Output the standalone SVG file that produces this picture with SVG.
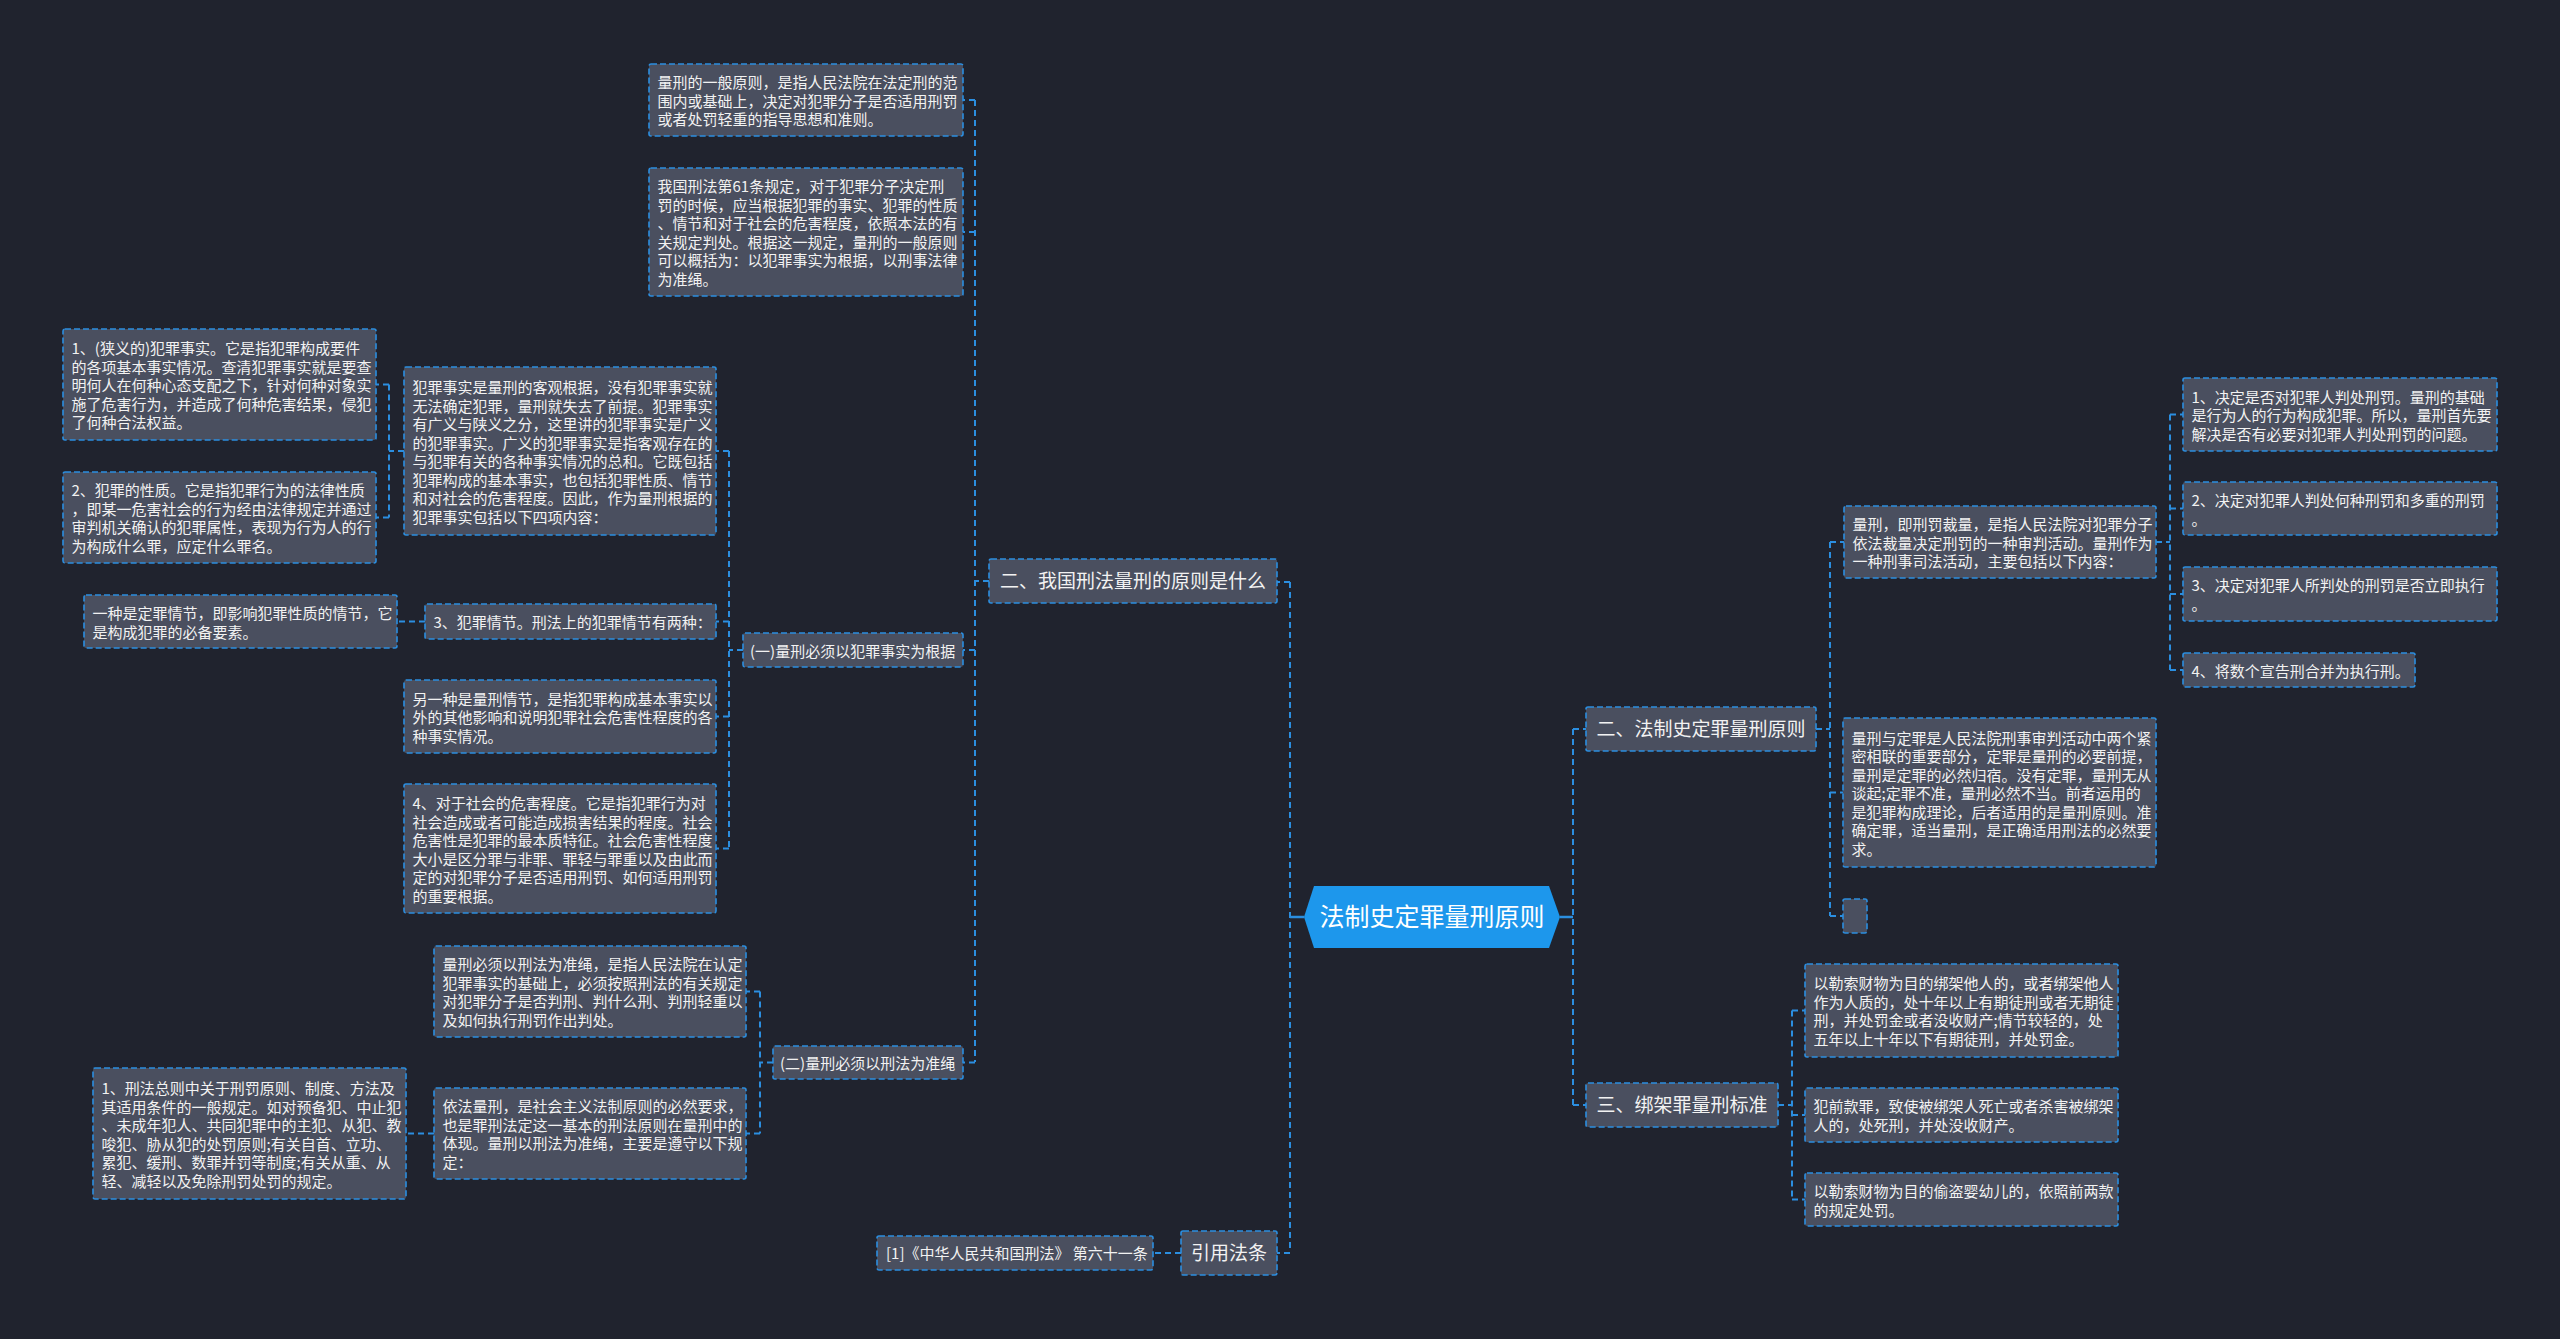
<svg xmlns="http://www.w3.org/2000/svg" width="2560" height="1339" viewBox="0 0 2560 1339">
<style>
.bg{fill:#20232e}
.n rect{fill:#4a4f5f;stroke:#2b8ee0;stroke-width:1.6;stroke-dasharray:6 3}
.t{font-family:"Noto Sans CJK SC","Noto Sans",sans-serif;font-size:15px;fill:#f2f2f2}
.b{font-family:"Noto Sans CJK SC","Noto Sans",sans-serif;font-size:19px;fill:#f2f2f2;text-anchor:middle}
.c{font-family:"Noto Sans CJK SC","Noto Sans",sans-serif;font-size:25px;fill:#ffffff;text-anchor:middle}
.ln{fill:none;stroke:#2b8ee0;stroke-width:2;stroke-dasharray:6 4}
.sl{fill:none;stroke:#2b8ee0;stroke-width:2.5}
</style>
<rect class="bg" x="0" y="0" width="2560" height="1339"/>

<g id="connectors">
<path class="sl" d="M1304 917 H1290 M1560 917 H1573"/>
<path class="ln" d="M1290 582 V1252 M1290 582 H1277 M1290 1253 H1277"/>
<path class="ln" d="M989 581 H975 M975 100 V1062 M975 100 H963 M975 232 H963 M975 650 H963 M975 1062.5 H963"/>
<path class="ln" d="M743 650 H729 M729 451 V848.5 M729 451 H716 M729 621.5 H716 M729 716.5 H716 M729 848.5 H716"/>
<path class="ln" d="M404 451 H389 M389 384.5 V517.5 M389 384.5 H376 M389 517.5 H376"/>
<path class="ln" d="M425 621.5 H397"/>
<path class="ln" d="M773 1062.5 H760 M760 991.5 V1133.5 M760 991.5 H746 M760 1133.5 H746"/>
<path class="ln" d="M434 1133.5 H406"/>
<path class="ln" d="M1181 1253 H1153"/>
<path class="ln" d="M1573 729 V1105 M1573 729 H1586 M1573 1105 H1586"/>
<path class="ln" d="M1816 729 H1830 M1830 542 V916 M1830 542 H1844 M1830 792.5 H1843 M1830 916 H1843"/>
<path class="ln" d="M2156 542 H2170 M2170 414.5 V670 M2170 414.5 H2183 M2170 508.5 H2183 M2170 594 H2183 M2170 670 H2183"/>
<path class="ln" d="M1778 1105 H1792 M1792 1010.5 V1199.5 M1792 1010.5 H1805 M1792 1115 H1805 M1792 1199.5 H1805"/>
</g>

<g id="center">
<polygon points="1314,886 1549,886 1560,917 1549,948 1314,948 1304,917" fill="#1d97ec"/>
<text class="c" x="1432" y="926">法制史定罪量刑原则</text>
</g>

<g id="b2" class="n"><rect x="989" y="559" width="288" height="44" rx="2"/><text class="b" x="1133" y="588">二、我国刑法量刑的原则是什么</text></g>
<g id="b1" class="n"><rect x="1586" y="707" width="230" height="44" rx="2"/><text class="b" x="1701" y="736">二、法制史定罪量刑原则</text></g>
<g id="b3" class="n"><rect x="1586" y="1083" width="192" height="44" rx="2"/><text class="b" x="1682" y="1112">三、绑架罪量刑标准</text></g>
<g id="cite" class="n"><rect x="1181" y="1231" width="96" height="44" rx="2"/><text class="b" x="1229" y="1260">引用法条</text></g>
<g id="cite1" class="n"><rect x="877" y="1236" width="276" height="34" rx="2"/><text class="t" x="886" y="1259">[1]《中华人民共和国刑法》 第六十一条</text></g>

<g id="t1" class="n"><rect x="649" y="64" width="314" height="72" rx="2"/>
<text class="t" x="657.5" y="88"><tspan x="657.5">量刑的一般原则，是指人民法院在法定刑的范</tspan><tspan x="657.5" dy="18.5">围内或基础上，决定对犯罪分子是否适用刑罚</tspan><tspan x="657.5" dy="18.5">或者处罚轻重的指导思想和准则。</tspan></text></g>

<g id="t2" class="n"><rect x="649" y="168" width="314" height="128" rx="2"/>
<text class="t" x="657.5" y="192"><tspan x="657.5">我国刑法第61条规定，对于犯罪分子决定刑</tspan><tspan x="657.5" dy="18.5">罚的时候，应当根据犯罪的事实、犯罪的性质</tspan><tspan x="657.5" dy="18.5">、情节和对于社会的危害程度，依照本法的有</tspan><tspan x="657.5" dy="18.5">关规定判处。根据这一规定，量刑的一般原则</tspan><tspan x="657.5" dy="18.5">可以概括为：以犯罪事实为根据，以刑事法律</tspan><tspan x="657.5" dy="18.5">为准绳。</tspan></text></g>

<g id="g1" class="n"><rect x="743" y="633" width="220" height="34" rx="2"/><text class="t" x="750" y="656.5">(一)量刑必须以犯罪事实为根据</text></g>

<g id="c1" class="n"><rect x="404" y="367" width="312" height="168" rx="2"/>
<text class="t" x="412.5" y="393"><tspan x="412.5">犯罪事实是量刑的客观根据，没有犯罪事实就</tspan><tspan x="412.5" dy="18.5">无法确定犯罪，量刑就失去了前提。犯罪事实</tspan><tspan x="412.5" dy="18.5">有广义与陕义之分，这里讲的犯罪事实是广义</tspan><tspan x="412.5" dy="18.5">的犯罪事实。广义的犯罪事实是指客观存在的</tspan><tspan x="412.5" dy="18.5">与犯罪有关的各种事实情况的总和。它既包括</tspan><tspan x="412.5" dy="18.5">犯罪构成的基本事实，也包括犯罪性质、情节</tspan><tspan x="412.5" dy="18.5">和对社会的危害程度。因此，作为量刑根据的</tspan><tspan x="412.5" dy="18.5">犯罪事实包括以下四项内容：</tspan></text></g>

<g id="a1" class="n"><rect x="63" y="329" width="313" height="111" rx="2"/>
<text class="t" x="71.5" y="354"><tspan x="71.5">1、(狭义的)犯罪事实。它是指犯罪构成要件</tspan><tspan x="71.5" dy="18.5">的各项基本事实情况。查清犯罪事实就是要查</tspan><tspan x="71.5" dy="18.5">明何人在何种心态支配之下，针对何种对象实</tspan><tspan x="71.5" dy="18.5">施了危害行为，并造成了何种危害结果，侵犯</tspan><tspan x="71.5" dy="18.5">了何种合法权益。</tspan></text></g>

<g id="a2" class="n"><rect x="63" y="472" width="313" height="91" rx="2"/>
<text class="t" x="71.5" y="496"><tspan x="71.5">2、犯罪的性质。它是指犯罪行为的法律性质</tspan><tspan x="71.5" dy="18.5">，即某一危害社会的行为经由法律规定并通过</tspan><tspan x="71.5" dy="18.5">审判机关确认的犯罪属性，表现为行为人的行</tspan><tspan x="71.5" dy="18.5">为构成什么罪，应定什么罪名。</tspan></text></g>

<g id="d0" class="n"><rect x="425" y="604" width="291" height="35" rx="2"/><text class="t" x="433.5" y="628">3、犯罪情节。刑法上的犯罪情节有两种：</text></g>

<g id="d1" class="n"><rect x="84" y="595" width="313" height="53" rx="2"/>
<text class="t" x="92.5" y="619"><tspan x="92.5">一种是定罪情节，即影响犯罪性质的情节，它</tspan><tspan x="92.5" dy="18.5">是构成犯罪的必备要素。</tspan></text></g>

<g id="e1" class="n"><rect x="404" y="680" width="312" height="73" rx="2"/>
<text class="t" x="412.5" y="704.5"><tspan x="412.5">另一种是量刑情节，是指犯罪构成基本事实以</tspan><tspan x="412.5" dy="18.5">外的其他影响和说明犯罪社会危害性程度的各</tspan><tspan x="412.5" dy="18.5">种事实情况。</tspan></text></g>

<g id="f1" class="n"><rect x="404" y="784" width="312" height="129" rx="2"/>
<text class="t" x="412.5" y="809"><tspan x="412.5">4、对于社会的危害程度。它是指犯罪行为对</tspan><tspan x="412.5" dy="18.5">社会造成或者可能造成损害结果的程度。社会</tspan><tspan x="412.5" dy="18.5">危害性是犯罪的最本质特征。社会危害性程度</tspan><tspan x="412.5" dy="18.5">大小是区分罪与非罪、罪轻与罪重以及由此而</tspan><tspan x="412.5" dy="18.5">定的对犯罪分子是否适用刑罚、如何适用刑罚</tspan><tspan x="412.5" dy="18.5">的重要根据。</tspan></text></g>

<g id="i1" class="n"><rect x="773" y="1046" width="190" height="33" rx="2"/><text class="t" x="780" y="1068.5">(二)量刑必须以刑法为准绳</text></g>

<g id="h1" class="n"><rect x="434" y="946" width="312" height="91" rx="2"/>
<text class="t" x="442.5" y="970"><tspan x="442.5">量刑必须以刑法为准绳，是指人民法院在认定</tspan><tspan x="442.5" dy="18.5">犯罪事实的基础上，必须按照刑法的有关规定</tspan><tspan x="442.5" dy="18.5">对犯罪分子是否判刑、判什么刑、判刑轻重以</tspan><tspan x="442.5" dy="18.5">及如何执行刑罚作出判处。</tspan></text></g>

<g id="h2" class="n"><rect x="434" y="1088" width="312" height="91" rx="2"/>
<text class="t" x="442.5" y="1112"><tspan x="442.5">依法量刑，是社会主义法制原则的必然要求，</tspan><tspan x="442.5" dy="18.5">也是罪刑法定这一基本的刑法原则在量刑中的</tspan><tspan x="442.5" dy="18.5">体现。量刑以刑法为准绳，主要是遵守以下规</tspan><tspan x="442.5" dy="18.5">定：</tspan></text></g>

<g id="h3" class="n"><rect x="93" y="1068" width="313" height="131" rx="2"/>
<text class="t" x="101.5" y="1094"><tspan x="101.5">1、刑法总则中关于刑罚原则、制度、方法及</tspan><tspan x="101.5" dy="18.5">其适用条件的一般规定。如对预备犯、中止犯</tspan><tspan x="101.5" dy="18.5">、未成年犯人、共同犯罪中的主犯、从犯、教</tspan><tspan x="101.5" dy="18.5">唆犯、胁从犯的处罚原则;有关自首、立功、</tspan><tspan x="101.5" dy="18.5">累犯、缓刑、数罪并罚等制度;有关从重、从</tspan><tspan x="101.5" dy="18.5">轻、减轻以及免除刑罚处罚的规定。</tspan></text></g>

<g id="l0" class="n"><rect x="1844" y="506" width="312" height="72" rx="2"/>
<text class="t" x="1852.5" y="530"><tspan x="1852.5">量刑，即刑罚裁量，是指人民法院对犯罪分子</tspan><tspan x="1852.5" dy="18.5">依法裁量决定刑罚的一种审判活动。量刑作为</tspan><tspan x="1852.5" dy="18.5">一种刑事司法活动，主要包括以下内容：</tspan></text></g>

<g id="l1" class="n"><rect x="2183" y="378" width="314" height="73" rx="2"/>
<text class="t" x="2191.5" y="402.5"><tspan x="2191.5">1、决定是否对犯罪人判处刑罚。量刑的基础</tspan><tspan x="2191.5" dy="18.5">是行为人的行为构成犯罪。所以，量刑首先要</tspan><tspan x="2191.5" dy="18.5">解决是否有必要对犯罪人判处刑罚的问题。</tspan></text></g>

<g id="l2" class="n"><rect x="2183" y="482" width="314" height="53" rx="2"/>
<text class="t" x="2191.5" y="506"><tspan x="2191.5">2、决定对犯罪人判处何种刑罚和多重的刑罚</tspan><tspan x="2191.5" dy="18.5">。</tspan></text></g>

<g id="l3" class="n"><rect x="2183" y="567" width="314" height="54" rx="2"/>
<text class="t" x="2191.5" y="591"><tspan x="2191.5">3、决定对犯罪人所判处的刑罚是否立即执行</tspan><tspan x="2191.5" dy="18.5">。</tspan></text></g>

<g id="l4" class="n"><rect x="2183" y="653" width="232" height="34" rx="2"/><text class="t" x="2191.5" y="676.5">4、将数个宣告刑合并为执行刑。</text></g>

<g id="m1" class="n"><rect x="1843" y="718" width="313" height="149" rx="2"/>
<text class="t" x="1851.5" y="743.5"><tspan x="1851.5">量刑与定罪是人民法院刑事审判活动中两个紧</tspan><tspan x="1851.5" dy="18.5">密相联的重要部分，定罪是量刑的必要前提，</tspan><tspan x="1851.5" dy="18.5">量刑是定罪的必然归宿。没有定罪，量刑无从</tspan><tspan x="1851.5" dy="18.5">谈起;定罪不准，量刑必然不当。前者运用的</tspan><tspan x="1851.5" dy="18.5">是犯罪构成理论，后者适用的是量刑原则。准</tspan><tspan x="1851.5" dy="18.5">确定罪，适当量刑，是正确适用刑法的必然要</tspan><tspan x="1851.5" dy="18.5">求。</tspan></text></g>

<g id="empty" class="n"><rect x="1843" y="899" width="24" height="34" rx="2"/></g>

<g id="k1" class="n"><rect x="1805" y="964" width="313" height="93" rx="2"/>
<text class="t" x="1813.5" y="989"><tspan x="1813.5">以勒索财物为目的绑架他人的，或者绑架他人</tspan><tspan x="1813.5" dy="18.5">作为人质的，处十年以上有期徒刑或者无期徒</tspan><tspan x="1813.5" dy="18.5">刑，并处罚金或者没收财产;情节较轻的，处</tspan><tspan x="1813.5" dy="18.5">五年以上十年以下有期徒刑，并处罚金。</tspan></text></g>

<g id="k2" class="n"><rect x="1805" y="1088" width="313" height="54" rx="2"/>
<text class="t" x="1813.5" y="1112"><tspan x="1813.5">犯前款罪，致使被绑架人死亡或者杀害被绑架</tspan><tspan x="1813.5" dy="18.5">人的，处死刑，并处没收财产。</tspan></text></g>

<g id="k3" class="n"><rect x="1805" y="1173" width="313" height="53" rx="2"/>
<text class="t" x="1813.5" y="1197"><tspan x="1813.5">以勒索财物为目的偷盗婴幼儿的，依照前两款</tspan><tspan x="1813.5" dy="18.5">的规定处罚。</tspan></text></g>
</svg>
